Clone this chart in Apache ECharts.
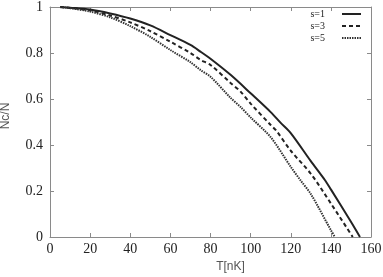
<!DOCTYPE html>
<html>
<head>
<meta charset="utf-8">
<script src="https://cdn.jsdelivr.net/npm/echarts@6/dist/echarts.min.js"></script>
<style>html,body{margin:0;padding:0;background:#fff}#c{width:383px;height:277px}</style>
</head>
<body>
<div id="c"></div>
<script>
var seriesNames = ['s=1', 's=3', 's=5'];
var tempS1 = [5, 10, 20, 30, 40, 50, 60, 70, 75, 80, 90, 100, 110, 115, 120, 130, 137, 140, 150, 154.5];
var valS1  = [1.0, 0.997, 0.989, 0.972, 0.95, 0.92, 0.878, 0.835, 0.806, 0.775, 0.705, 0.625, 0.543, 0.496, 0.452, 0.33, 0.248, 0.207, 0.066, 0];
var tempS3 = [5, 10, 20, 30, 40, 50, 60, 70, 75, 80, 90, 95, 100, 110, 113, 120, 130, 140, 150.9];
var valS3  = [1.0, 0.996, 0.985, 0.963, 0.933, 0.895, 0.849, 0.80, 0.77, 0.748, 0.67, 0.632, 0.58, 0.487, 0.46, 0.375, 0.275, 0.146, 0];
var tempS5 = [5, 10, 20, 30, 40, 50, 60, 70, 75, 80, 90, 95, 100, 110, 120, 125, 130, 140, 142];
var valS5  = [1.0, 0.995, 0.98, 0.955, 0.917, 0.87, 0.813, 0.76, 0.726, 0.697, 0.605, 0.565, 0.52, 0.434, 0.305, 0.245, 0.187, 0.03, 0];
var xTicks = [0, 160, 20];
var yTicks = [0, 1, 0.2];

function pairs(t, v) { return t.map(function (x, i) { return [x, v[i]]; }); }

var axisGray = '#8a8a8a';
var serif = '"Liberation Serif", "Times New Roman", serif';
var sans = '"Liberation Sans", Arial, sans-serif';

var chart = echarts.init(document.getElementById('c'));
var baseX = {
  type: 'value', min: xTicks[0], max: xTicks[1], interval: xTicks[2],
  axisLine: { show: true, onZero: false, lineStyle: { color: axisGray, width: 1 } },
  axisTick: { show: true, inside: true, length: 4, lineStyle: { color: axisGray } },
  splitLine: { show: false }
};
var baseY = {
  type: 'value', min: yTicks[0], max: yTicks[1], interval: yTicks[2],
  axisLine: { show: true, onZero: false, lineStyle: { color: axisGray, width: 1 } },
  axisTick: { show: true, inside: true, length: 4, lineStyle: { color: axisGray } },
  splitLine: { show: false }
};
chart.setOption({
  animation: false,
  backgroundColor: '#fff',
  grid: { left: 50, right: 12, top: 7, bottom: 40, containLabel: false, outerBoundsMode: 'none' },
  xAxis: [
    Object.assign({}, baseX, {
      position: 'bottom',
      name: 'T[nK]', nameLocation: 'middle', nameGap: 24,
      nameTextStyle: { fontFamily: sans, fontSize: 12, color: '#555', padding: [0, 0, 0, 40] },
      axisLabel: { fontFamily: serif, fontSize: 14, color: '#222', margin: 5 }
    }),
    Object.assign({}, baseX, { position: 'top', axisLabel: { show: false } })
  ],
  yAxis: [
    Object.assign({}, baseY, {
      position: 'left',
      name: 'Nc/N', nameLocation: 'middle', nameGap: 38,
      nameTextStyle: { fontFamily: sans, fontSize: 12, color: '#555', padding: [0, 0, 0, 12] },
      axisLabel: { fontFamily: serif, fontSize: 14, color: '#222', margin: 7 }
    }),
    Object.assign({}, baseY, { position: 'right', axisLabel: { show: false } })
  ],
  legend: {
    orient: 'vertical', right: 21, top: 9, align: 'right', padding: 0,
    itemWidth: 19, itemHeight: 8, itemGap: 2,
    itemStyle: { opacity: 0 },
    textStyle: { fontFamily: serif, fontSize: 10, color: '#222', padding: [0, 12, 0, 0] },
    data: seriesNames
  },
  series: [
    { name: seriesNames[0], type: 'line', symbol: 'none', smooth: 0.3,
      data: pairs(tempS1, valS1), lineStyle: { color: '#222', width: 2, type: 'solid' }, itemStyle: { color: '#222' } },
    { name: seriesNames[1], type: 'line', symbol: 'none', smooth: 0.3,
      data: pairs(tempS3, valS3), lineStyle: { color: '#222', width: 2, type: [4, 3] }, itemStyle: { color: '#222' } },
    { name: seriesNames[2], type: 'line', symbol: 'none', smooth: 0.3,
      data: pairs(tempS5, valS5), lineStyle: { color: '#333', width: 2, type: [1.5, 1] }, itemStyle: { color: '#333' } }
  ]
});
</script>
</body>
</html>
